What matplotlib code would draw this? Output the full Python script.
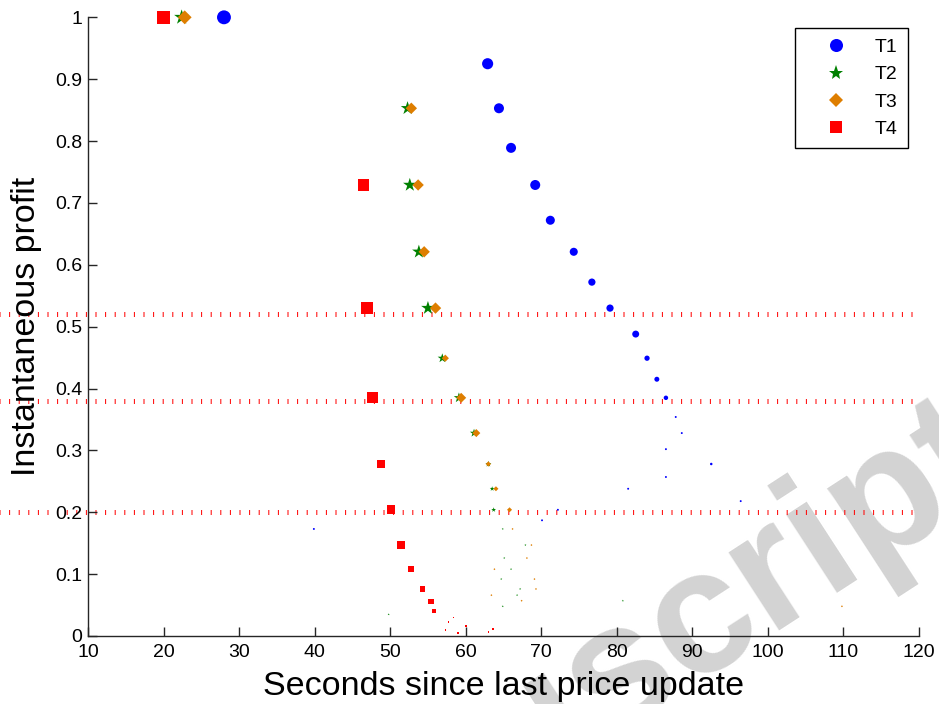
# plot.py
# Instantaneous profit vs. seconds since last price update (T1..T4)

import matplotlib
matplotlib.use("Agg")
import numpy as np
import matplotlib.pyplot as plt
from matplotlib.lines import Line2D

plt.rcParams['font.family'] = ['Liberation Sans', 'DejaVu Sans']

# ---- data ----
# weight = relative marker scale (frequency), 1.0 = largest marker
t1_x = [28.0, 62.9, 64.4, 66.0, 69.2, 71.2, 74.3, 76.7, 79.1, 82.5, 84.0, 85.3,
        86.5, 87.8, 88.6, 86.5, 92.5, 86.5, 81.5, 96.4, 72.2, 70.1, 39.9]
t1_y = [1.0, 0.925, 0.853, 0.789, 0.729, 0.672, 0.621, 0.572, 0.530, 0.488,
        0.449, 0.415, 0.385, 0.354, 0.328, 0.302, 0.278, 0.257, 0.238, 0.218,
        0.204, 0.187, 0.173]
t1_weight = [1.0, 0.80, 0.72, 0.72, 0.72, 0.65, 0.58, 0.52, 0.52, 0.50, 0.38,
             0.36, 0.32, 0.14, 0.14, 0.14, 0.18, 0.14, 0.14, 0.14, 0.14, 0.14, 0.14]

t2_x = [22.4, 52.3, 52.6, 53.8, 55.0, 56.9, 59.1, 61.1, 63.0, 63.5, 63.7, 64.9,
        67.9, 65.1, 66.0, 64.7, 67.2, 66.8, 64.9, 80.8, 49.8]
t2_y = [1.0, 0.853, 0.729, 0.621, 0.530, 0.449, 0.385, 0.328, 0.278, 0.238,
        0.204, 0.173, 0.147, 0.126, 0.108, 0.092, 0.076, 0.066, 0.048, 0.057,
        0.035]
t2_weight = [1.0, 0.90, 0.90, 0.90, 0.90, 0.62, 0.68, 0.55, 0.40, 0.32, 0.32,
             0.14, 0.14, 0.14, 0.14, 0.14, 0.14, 0.14, 0.14, 0.14, 0.14]

t3_x = [22.8, 52.8, 53.7, 54.5, 56.0, 57.3, 59.4, 61.4, 63.0, 64.0, 65.8, 66.2,
        68.7, 68.1, 63.8, 69.1, 69.3, 63.4, 67.4, 109.8]
t3_y = [1.0, 0.853, 0.729, 0.621, 0.530, 0.449, 0.385, 0.328, 0.278, 0.238,
        0.204, 0.173, 0.147, 0.126, 0.108, 0.092, 0.076, 0.066, 0.057, 0.048]
t3_weight = [1.0, 0.82, 0.82, 0.82, 0.82, 0.52, 0.72, 0.58, 0.38, 0.36, 0.36,
             0.14, 0.14, 0.14, 0.14, 0.14, 0.14, 0.14, 0.14, 0.14]

t4_x = [20.0, 46.5, 46.9, 47.7, 48.8, 50.1, 51.4, 52.8, 54.3, 55.4, 55.8, 58.4,
        57.7, 60.0, 57.3, 59.0, 63.6, 63.0]
t4_y = [1.0, 0.729, 0.530, 0.385, 0.278, 0.204, 0.147, 0.108, 0.076, 0.056,
        0.040, 0.030, 0.023, 0.016, 0.010, 0.005, 0.011, 0.006]
t4_weight = [1.0, 0.85, 0.85, 0.80, 0.58, 0.65, 0.58, 0.42, 0.38, 0.38, 0.30,
             0.12, 0.12, 0.12, 0.12, 0.12, 0.12, 0.12]

thresholds = [0.52, 0.38, 0.2]
labels = ['T1', 'T2', 'T3', 'T4']

# ---- styles ----
BLUE = '#0000ff'
GREEN = '#008000'
ORANGE = '#de7e00'
RED = '#ff0000'
MAX_PT = 10.0  # largest marker extent in points


def msize(weight, factor=1.0):
    return (np.asarray(weight) * MAX_PT) ** 2 * factor


fig = plt.figure(figsize=(9.39, 7.04), dpi=100)
ax = fig.add_axes([0.0937, 0.0966, 0.885, 0.8788])
ax.patch.set_alpha(0)

# watermark, behind everything
fig.text(1.072, 0.325, 'Manuscript', rotation=33, rotation_mode='anchor',
         ha='right', va='baseline', fontsize=127, fontweight='bold',
         color='#d3d3d3', zorder=-5)

for thr in thresholds:
    ax.plot([-2, 119.6], [thr, thr], color=RED, linewidth=3.6,
            dashes=(0.2, 1.72), clip_on=False, zorder=1)

ax.scatter(t1_x, t1_y, s=msize(t1_weight), marker='o', color=BLUE,
           linewidths=0, clip_on=False, zorder=3)
ax.scatter(t2_x, t2_y, s=msize(t2_weight, 1.3), marker='*', color=GREEN,
           linewidths=0, clip_on=False, zorder=3)
ax.scatter(t3_x, t3_y, s=msize(t3_weight, 0.5), marker='D', color=ORANGE,
           linewidths=0, clip_on=False, zorder=4)
ax.scatter(t4_x, t4_y, s=msize(t4_weight, 0.95), marker='s', color=RED,
           linewidths=0, clip_on=False, zorder=4)

ax.set_xlim(10, 120)
ax.set_ylim(0, 1)
ax.set_xticks(np.arange(10, 121, 10))
ax.set_yticks(np.arange(0, 1.01, 0.1))
ax.set_yticklabels(['0', '0.1', '0.2', '0.3', '0.4', '0.5', '0.6', '0.7',
                    '0.8', '0.9', '1'])

for side in ['top', 'right']:
    ax.spines[side].set_visible(False)
for side in ['left', 'bottom']:
    ax.spines[side].set_color('#262626')
    ax.spines[side].set_linewidth(1.0)

ax.tick_params(direction='in', length=6.5, width=1.0, color='#262626',
               labelsize=14, pad=4)
ax.tick_params(axis='x', pad=5.5)

ax.set_xlabel('Seconds since last price update', fontsize=24.5, labelpad=7.5)
ax.set_ylabel('Instantaneous profit', fontsize=24.5, labelpad=9.5)

handles = [
    Line2D([], [], linestyle='none', marker='o', markersize=9.4,
           markerfacecolor=BLUE, markeredgewidth=0),
    Line2D([], [], linestyle='none', marker='*', markersize=11,
           markerfacecolor=GREEN, markeredgewidth=0),
    Line2D([], [], linestyle='none', marker='D', markersize=6.8,
           markerfacecolor=ORANGE, markeredgewidth=0),
    Line2D([], [], linestyle='none', marker='s', markersize=8.6,
           markerfacecolor=RED, markeredgewidth=0),
]
leg = fig.legend(handles, labels, loc='upper right',
                 bbox_to_anchor=(908 / 939, 1 - 28 / 704), borderaxespad=0,
                 fontsize=14, frameon=True, fancybox=False, framealpha=1,
                 edgecolor='black', borderpad=0.55, handlelength=3.18,
                 handletextpad=0.37, labelspacing=0.49)
leg.get_frame().set_linewidth(1.0)

fig.savefig('out.png', dpi=100)
